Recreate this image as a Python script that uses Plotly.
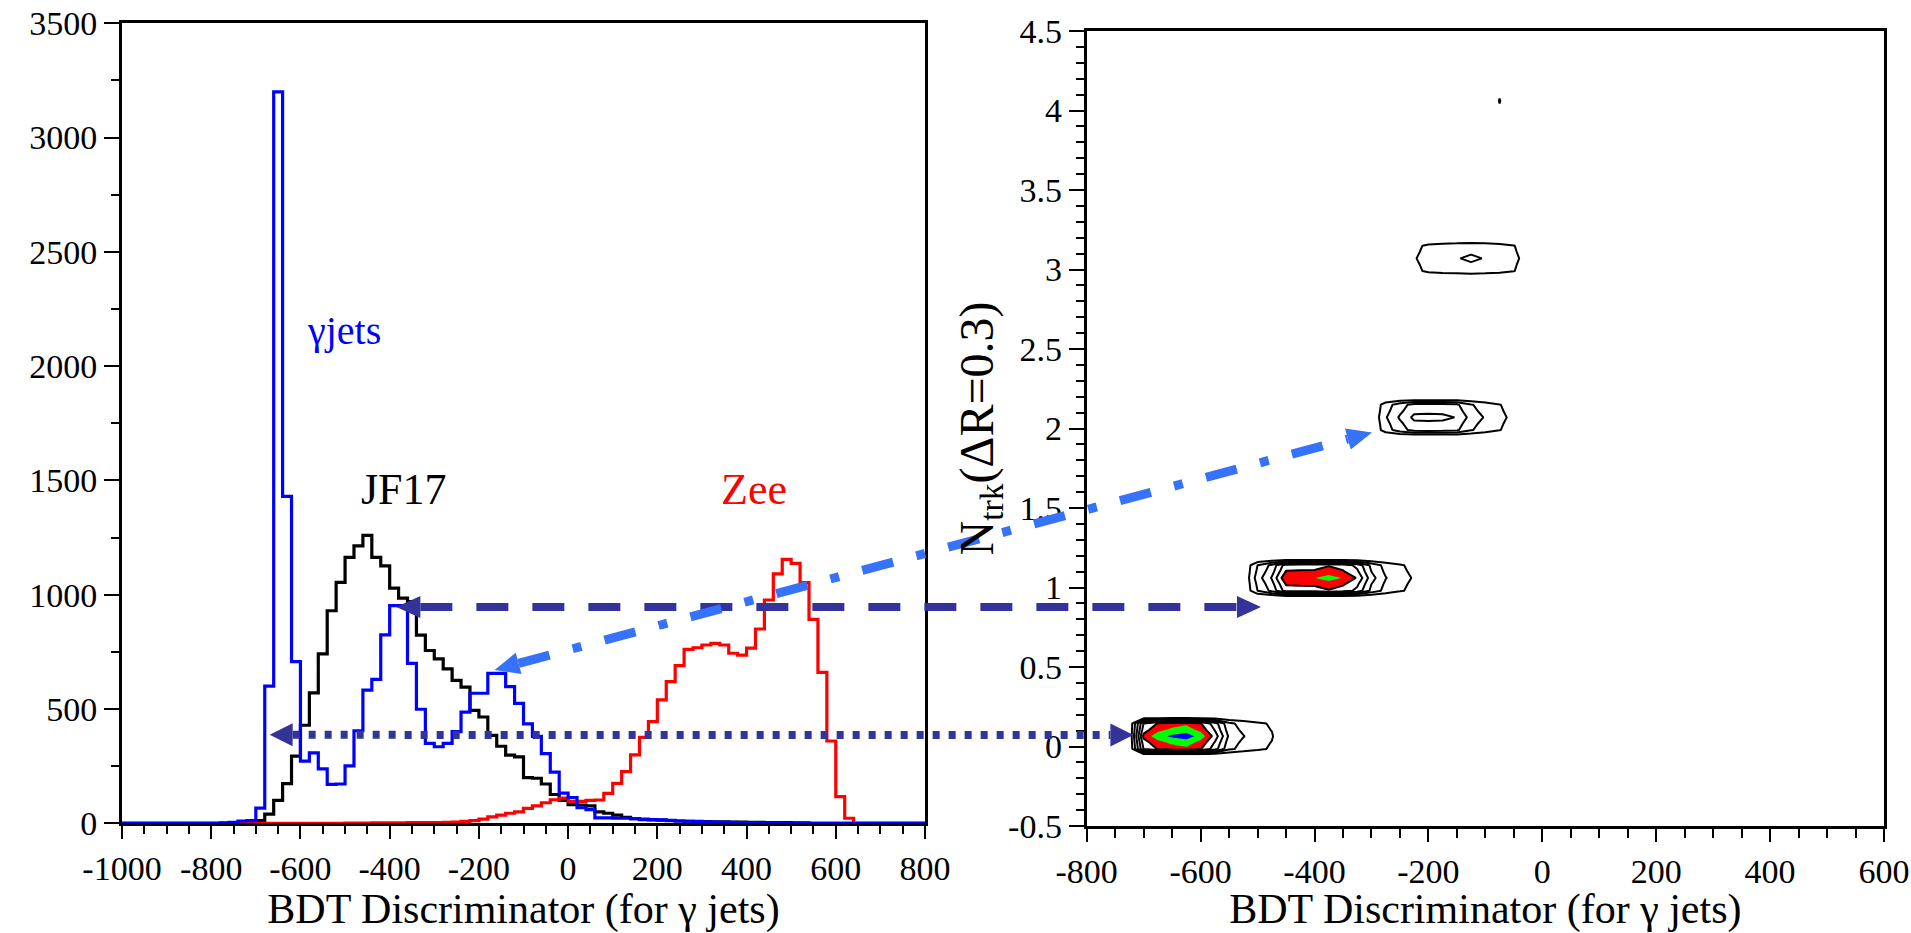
import numpy as np
import plotly.graph_objects as go

W, H = 1911, 933

# ---------------- Left panel: BDT discriminator histograms ----------------
bin_edges = list(range(-1000, 801, 20))   # 90 bins of width 20

gamma_jets = [0, 0, 0, 0, 0, 0, 0, 0, 0, 0,
              0, 2, 4, 10, 12, 66, 600, 3200, 1430, 707,
              272, 308, 238, 170, 172, 251, 405, 583, 630, 824,
              952, 952, 700, 499, 350, 335, 350, 401, 486, 569,
              569, 656, 656, 598, 525, 435, 380, 305, 224, 132,
              112, 68, 60, 24, 24, 22, 22, 20, 18, 16,
              15, 13, 10, 9, 7, 6, 5, 4, 4, 3,
              3, 2, 2, 2, 1, 1, 0, 0, 0, 0,
              0, 0, 0, 0, 0, 0, 0, 0, 0, 0]

jf17 = [0, 0, 0, 0, 0, 0, 0, 0, 0, 0,
        0, 0, 0, 0, 0, 12, 40, 100, 174, 294,
        429, 571, 741, 930, 1054, 1163, 1214, 1260, 1163, 1126,
        1029, 985, 970, 823, 756, 719, 676, 625, 596, 494,
        465, 385, 337, 298, 291, 200, 197, 172, 126, 100,
        82, 80, 76, 50, 44, 36, 26, 20, 16, 15,
        14, 12, 10, 9, 8, 7, 6, 6, 5, 5,
        4, 4, 3, 3, 3, 2, 2, 0, 0, 0,
        0, 0, 0, 0, 0, 0, 0, 0, 0, 0]

zee = [0, 0, 0, 0, 0, 0, 0, 0, 0, 0,
       0, 0, 0, 0, 0, 0, 0, 0, 0, 0,
       0, 0, 0, 0, 0, 1, 1, 1, 2, 2,
       2, 2, 3, 3, 3, 3, 4, 5, 8, 12,
       18, 28, 36, 44, 50, 65, 76, 90, 103, 110,
       95, 96, 100, 102, 131, 175, 226, 299, 376, 445,
       540, 620, 690, 761, 768, 780, 787, 780, 744, 736,
       766, 850, 977, 1091, 1155, 1137, 1053, 892, 660, 360,
       117, 22, 0, 0, 0, 0, 0, 0, 0, 0]

left_xticks = [-1000, -800, -600, -400, -200, 0, 200, 400, 600, 800]
left_xtext = ["-1000", "-800", "-600", "-400", "-200", "0", "200", "400", "600", "800"]
left_yticks = [0, 500, 1000, 1500, 2000, 2500, 3000, 3500]
left_ytext = ["0", "500", "1000", "1500", "2000", "2500", "3000", "3500"]

# ---------------- Right panel: Ntrk vs BDT contour ----------------
cont_x = [-775, -750, -725, -700, -675, -650, -625, -600, -575, -550,
          -525, -500, -475, -450, -425, -400, -375, -350, -325, -300,
          -275, -250, -225, -200, -175, -150, -125, -100, -75, -50,
          -25, 0]
# level profile along BDT for each Ntrk ridge (contour level units)
ntrk0 = [0, 0, 0, 6.3, 7.6, 8.2, 8.5, 7.6, 5.6, 2.8,
         2.05, 1.5, 1.1, 0, 0, 0, 0, 0, 0, 0,
         0, 0, 0, 0, 0, 0, 0, 0, 0, 0, 0, 0]
ntrk1 = [0, 0, 0, 0, 0, 0, 0, 0, 0, 0,
         0, 2.5, 4.1, 6.9, 6.95, 6.98, 7.4, 6.95, 5.9, 3.4,
         2.05, 1.4, 0.9, 0, 0, 0, 0, 0, 0, 0, 0, 0]
ntrk2 = [0, 0, 0, 0, 0, 0, 0, 0, 0, 0,
         0, 0, 0, 0, 0, 0, 0, 0, 0, 0,
         1.9, 3.15, 4.25, 4.3, 4.25, 3.95, 2.6, 1.9, 1.3, 0.7, 0, 0]
ntrk3 = [0, 0, 0, 0, 0, 0, 0, 0, 0, 0,
         0, 0, 0, 0, 0, 0, 0, 0, 0, 0,
         0, 0, 0.9, 1.5, 1.8, 1.95, 2.15, 1.95, 1.7, 1.3, 0.5, 0]
ntrk4 = [0, 0, 0, 0, 0, 0, 0, 0, 0, 0,
         0, 0, 0, 0, 0, 0, 0, 0, 0, 0,
         0, 0, 0, 0, 0, 0, 0, 0, 1.05, 0, 0, 0]
ridge_y = [0.065, 1.06, 2.07, 3.07, 4.06]
ridge_offsets = [-0.12, -0.08, -0.04, 0.0, 0.04, 0.08, 0.12]
ridge_weights = [0.0, 0.8, 0.88, 1.0, 0.88, 0.8, 0.0]

right_xticks = [-800, -600, -400, -200, 0, 200, 400, 600]
right_xtext = ["-800", "-600", "-400", "-200", "0", "200", "400", "600"]
right_yticks = [-0.5, 0, 0.5, 1, 1.5, 2, 2.5, 3, 3.5, 4, 4.5]
right_ytext = ["-0.5", "0", "0.5", "1", "1.5", "2", "2.5", "3", "3.5", "4", "4.5"]

# arrows: (left-panel point, right-panel point)
arrow_dashed = ((-385, 946), (-494, 0.877))
arrow_dotted = ((-669, 387), (-718, 0.072))
arrow_dashdot = ((-165, 671), (-299, 1.975))

NAVY = "#333399"
LBLUE = "#3672FA"
FONT = "Liberation Serif"

# ---------------- axes geometry ----------------
ax_left_x = dict(domain=[122 / W, 925 / W], range=[-1000, 800])
ax_left_y = dict(domain=[1 - 823.3 / H, 1 - 23.3 / H], range=[0, 3500])
ax_right_x = dict(domain=[1086.7 / W, 1884 / W], range=[-800, 600])
ax_right_y = dict(domain=[1 - 826 / H, 1 - 31 / H], range=[-0.5, 4.5])

fig = go.Figure()

def hist_trace(vals, color, name):
    return go.Scatter(x=bin_edges, y=vals + [vals[-1]], mode="lines",
                      line=dict(color=color, width=3.2, shape="hv"),
                      name=name, xaxis="x", yaxis="y", hoverinfo="skip")

fig.add_trace(hist_trace(jf17, "black", "JF17"))
fig.add_trace(hist_trace(zee, "#ff0000", "Zee"))
fig.add_trace(hist_trace(gamma_jets, "#0000ff", "γjets"))

# build contour grid from ridge profiles
profiles = [ntrk0, ntrk1, ntrk2, ntrk3, ntrk4]
cy, cz = [], []
for c, prof in zip(ridge_y, profiles):
    for off, w in zip(ridge_offsets, ridge_weights):
        cy.append(c + off)
        cz.append([w * v for v in prof])

fill_scale = [[0, "white"], [0.6875, "white"], [0.6875, "#ff0000"], [0.8125, "#ff0000"],
              [0.8125, "#00ff00"], [0.9375, "#00ff00"], [0.9375, "#0000ff"], [1, "#0000ff"]]
fig.add_trace(go.Contour(x=cont_x, y=cy, z=cz, xaxis="x2", yaxis="y2",
                         autocontour=False,
                         contours=dict(start=1, end=8, size=1, coloring="fill", showlines=False),
                         colorscale=fill_scale, showscale=False,
                         line=dict(width=0, smoothing=0), hoverinfo="skip"))
fig.add_trace(go.Contour(x=cont_x, y=cy, z=cz, xaxis="x2", yaxis="y2",
                         autocontour=False,
                         contours=dict(start=1, end=6, size=1, coloring="lines"),
                         colorscale=[[0, "black"], [1, "black"]], showscale=False,
                         line=dict(width=2, smoothing=0), hoverinfo="skip"))

# ---------------- arrows (shapes in paper coords, derived from data coords) ----------------
def to_px(pt, ax, ay):
    x, y = pt
    fx = ax["domain"][0] + (x - ax["range"][0]) / (ax["range"][1] - ax["range"][0]) * (ax["domain"][1] - ax["domain"][0])
    fy = ay["domain"][0] + (y - ay["range"][0]) / (ay["range"][1] - ay["range"][0]) * (ay["domain"][1] - ay["domain"][0])
    return np.array([fx * W, (1 - fy) * H])

def px2paper(p):
    return p[0] / W, 1 - p[1] / H

shapes = []
def add_arrow(arrow, color, dash, width, hlen, hw):
    a = to_px(arrow[0], ax_left_x, ax_left_y)
    b = to_px(arrow[1], ax_right_x, ax_right_y)
    d = (b - a) / np.linalg.norm(b - a)
    n = np.array([-d[1], d[0]])
    a_base = a + d * hlen
    b_base = b - d * hlen
    p0, p1 = px2paper(a_base), px2paper(b_base)
    shapes.append(dict(type="line", xref="paper", yref="paper", x0=p0[0], y0=p0[1], x1=p1[0], y1=p1[1],
                       line=dict(color=color, width=width, dash=dash)))
    for tip, base in ((a, a_base), (b, b_base)):
        pts = [tip, base + n * hw, base - n * hw]
        pp = [px2paper(p) for p in pts]
        path = "M {:.6f},{:.6f} L {:.6f},{:.6f} L {:.6f},{:.6f} Z".format(*pp[0], *pp[1], *pp[2])
        shapes.append(dict(type="path", xref="paper", yref="paper", path=path,
                           fillcolor=color, line=dict(width=0)))

add_arrow(arrow_dashed, NAVY, "32px,24px", 8, 24, 11)
add_arrow(arrow_dotted, NAVY, "7px,9px", 8, 23, 11.5)
add_arrow(arrow_dashdot, LBLUE, "32px,24px,9px,24px", 9, 25, 11)

# ---------------- layout ----------------
def tickfont():
    return dict(family=FONT, size=34, color="black")

def axis(dom, rng, anchor, tv, tt, tl, mtick0, mdtick, mlen, title=None):
    a = dict(domain=dom, range=rng, anchor=anchor, automargin=False,
             showline=True, linewidth=3, linecolor="black", mirror=True,
             showgrid=False, zeroline=False, ticks="outside", tickwidth=2, tickcolor="black",
             ticklen=tl, tickfont=tickfont(), tickmode="array", tickvals=tv, ticktext=tt,
             minor=dict(tickmode="linear", tick0=mtick0, dtick=mdtick, ticks="outside",
                        ticklen=mlen, tickwidth=2, tickcolor="black", showgrid=False))
    if title is not None:
        a["title"] = title
    return a

title_font = dict(family=FONT, size=42, color="black")
xtitle = lambda: dict(text="BDT Discriminator (for γ jets)", font=title_font, standoff=18)
NBSP = "\u00a0"
ytitle2 = "N<sub>trk</sub>(ΔR=0.3)" + NBSP * 9

fig.update_layout(
    template="none",
    width=W, height=H, margin=dict(l=0, r=0, t=0, b=0, autoexpand=False),
    paper_bgcolor="white", plot_bgcolor="white", showlegend=False,
    font=dict(family=FONT, size=34, color="black"),
    xaxis=axis(ax_left_x["domain"], ax_left_x["range"], "y", left_xticks, left_xtext, 13, -1000, 50, 8, xtitle()),
    yaxis=axis(ax_left_y["domain"], ax_left_y["range"], "x", left_yticks, left_ytext, 15, 0, 250, 8),
    xaxis2=axis(ax_right_x["domain"], ax_right_x["range"], "y2", right_xticks, right_xtext, 13, -800, 50, 9, xtitle()),
    yaxis2=axis(ax_right_y["domain"], ax_right_y["range"], "x2", right_yticks, right_ytext, 15, -0.5, 0.1, 8,
                dict(text=ytitle2, font=dict(family=FONT, size=48, color="black"), standoff=0)),
    shapes=shapes,
    annotations=[
        dict(x=-502, y=2158, xref="x", yref="y", text="γjets", showarrow=False,
             font=dict(family=FONT, size=40, color="#0000ff")),
        dict(x=-369, y=1462, xref="x", yref="y", text="JF17", showarrow=False,
             font=dict(family=FONT, size=44, color="black")),
        dict(x=417, y=1462, xref="x", yref="y", text="Zee", showarrow=False,
             font=dict(family=FONT, size=44, color="#ff0000")),
    ],
)

fig.write_html("out.html")
